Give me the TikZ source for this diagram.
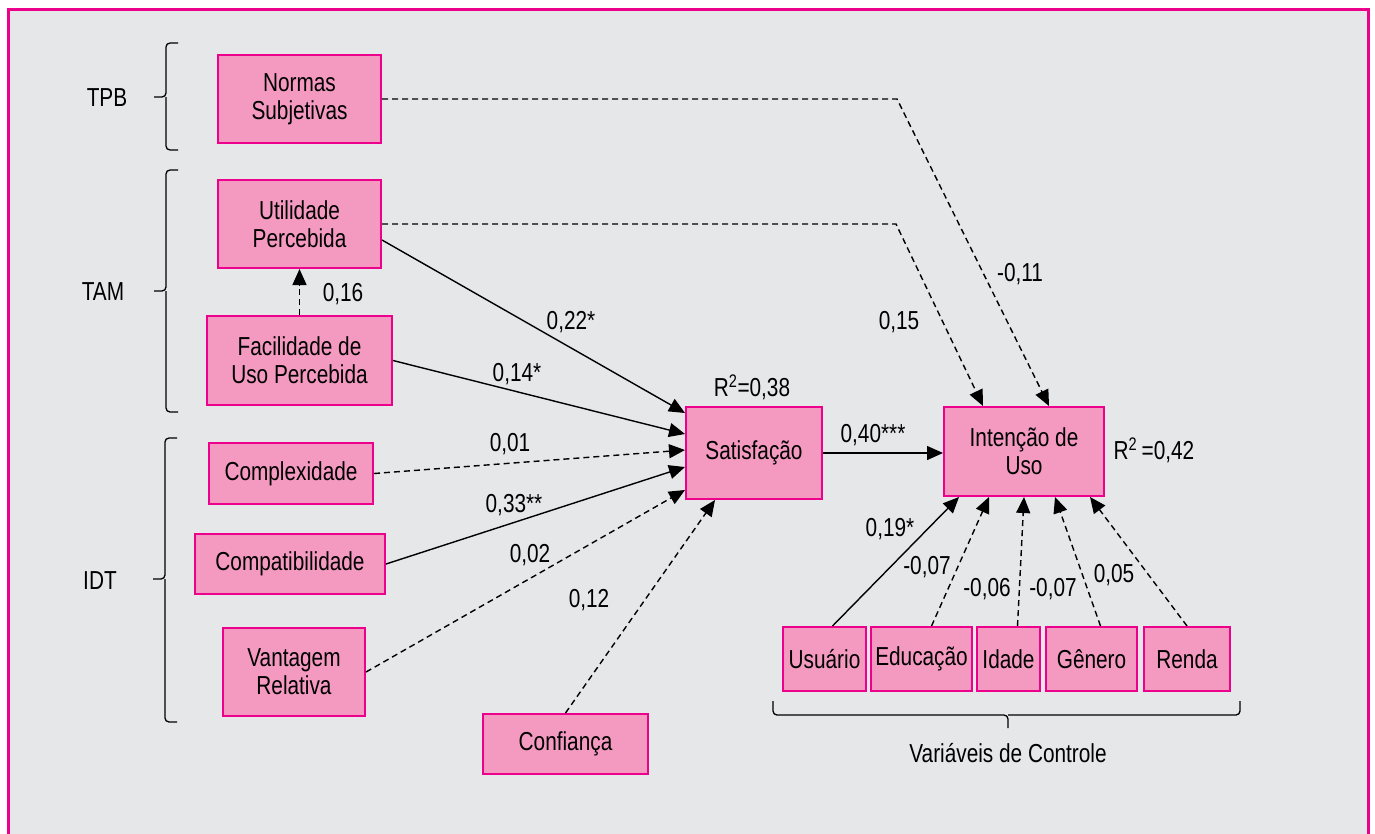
\documentclass[tikz,border=0pt]{standalone}
\usepackage{fontspec}
\setmainfont[FakeStretch=0.80]{Liberation Sans}
\usetikzlibrary{arrows.meta,calc}
\definecolor{bggray}{HTML}{E6E7E8}
\definecolor{boxfill}{HTML}{F49AC1}
\definecolor{mag}{HTML}{EC008C}
\begin{document}
\begin{tikzpicture}[x=1pt,y=-1pt,
  box/.style={draw=mag, fill=boxfill, line width=2pt, inner sep=0pt, align=center,
    font=\fontsize{26}{28}\selectfont},
  lbl/.style={inner sep=0pt, text height=18.5pt, text depth=0pt, font=\fontsize{26}{28}\selectfont},
  conn/.style={line width=1.4pt, -{Triangle[length=16pt,width=14pt]}},
  dconn/.style={conn, dash pattern=on 6pt off 4pt},
  brace/.style={line width=1.3pt, rounded corners=4pt}]
\useasboundingbox (0,0) rectangle (1375,833);
\fill[white] (0,0) rectangle (1375,833);
\fill[bggray] (8,9) rectangle (1368,860);
\draw[mag, line width=3pt] (8,9) rectangle (1368,860);

% nodes
\node[box, minimum width=163pt, minimum height=88pt] (NS) at (299.5,99) {Normas\\Subjetivas};
\node[box, minimum width=163pt, minimum height=88pt] (UP) at (299.5,224) {Utilidade\\Percebida};
\node[box, minimum width=185pt, minimum height=89pt] (FUP) at (299.5,360.5) {Facilidade de\\Uso Percebida};
\node[box, minimum width=164pt, minimum height=61pt] (CX) at (291,473.5) {Complexidade};
\node[box, minimum width=190pt, minimum height=60pt] (CP) at (290,564) {Compatibilidade};
\node[box, minimum width=142pt, minimum height=88pt] (VR) at (294,672) {Vantagem\\Relativa};
\node[box, minimum width=165pt, minimum height=60pt] (CF) at (565.5,744) {Confiança};
\node[box, minimum width=136pt, minimum height=92pt] (SAT) at (754,453) {Satisfação};
\node[box, minimum width=160pt, minimum height=89pt] (INT) at (1024,451.5) {Intenção de\\Uso};
\node[box, minimum width=83pt, minimum height=64pt] (US) at (824.5,659) {Usuário};
\node[box, minimum width=101pt, minimum height=64pt] (ED) at (921.5,659) {Educação};
\node[box, minimum width=63pt, minimum height=64pt] (ID) at (1008.5,659) {Idade};
\node[box, minimum width=91pt, minimum height=64pt] (GE) at (1091.5,659) {Gênero};
\node[box, minimum width=86pt, minimum height=64pt] (RE) at (1187,659) {Renda};

% group labels
\node[lbl] (tpb) at (107,97) {TPB};
\node[lbl] (tam) at (103,291) {TAM};
\node[lbl] (idt) at (100,580) {IDT};
\node[lbl] (vc) at (1008,753) {Variáveis de Controle};

% brackets
\draw[brace] (178,43) -- (166,43) -- (166,97) -- (154,97);
\draw[brace] (166,97) -- (166,150) -- (178,150);
\draw[brace] (178,170) -- (166,170) -- (166,291) -- (154,291);
\draw[brace] (166,291) -- (166,412) -- (178,412);
\draw[brace] (177,438) -- (165,438) -- (165,579) -- (153,579);
\draw[brace] (165,579) -- (165,722) -- (177,722);
\draw[brace] (773,701) -- (773,715) -- (1008,715) -- (1008,728);
\draw[brace] (1008,715) -- (1240,715) -- (1240,701);

% bend points
\coordinate (b1) at (897,99);
\coordinate (b2) at (896,224);

% connectors
\draw[dconn] (NS.east) -- (b1) -- ([xshift=25pt]INT.north);
\draw[dconn] (UP.east) -- (b2) -- ([xshift=-41pt]INT.north);
\draw[conn] ([yshift=-16pt]UP.east) -- ([yshift=40pt]SAT.west);
\draw[conn] (FUP.east) -- ([yshift=19pt]SAT.west);
\draw[dconn] (CX.east) -- ([yshift=3pt]SAT.west);
\draw[conn] (CP.east) -- ([yshift=-14pt]SAT.west);
\draw[dconn] (VR.east) -- ([yshift=-37pt]SAT.west);
\draw[dconn] (CF.north) -- ([xshift=-39pt]SAT.south);
\draw[dconn] (FUP.north) -- (UP.south);
\draw[conn] (SAT.east) -- (SAT.east -| INT.west);
\draw[conn] ([xshift=8pt]US.north) -- ([xshift=-65pt]INT.south);
\draw[dconn] ([xshift=10pt]ED.north) -- ([xshift=-35pt]INT.south);
\draw[dconn] ([xshift=9pt]ID.north) -- (INT.south);
\draw[dconn] ([xshift=9pt]GE.north) -- ([xshift=31pt]INT.south);
\draw[dconn] (RE.north) -- ([xshift=66pt]INT.south);

% coefficient labels
\node[lbl] (l016) at (343,292) {0,16};
\node[lbl] (l022) at (571,320) {0,22*};
\node[lbl] (l014) at (517,372) {0,14*};
\node[lbl] (r38) at (752,387) {R\textsuperscript{2}=0,38};
\node[lbl] (l001) at (510,442) {0,01};
\node[lbl] (l033) at (514,503) {0,33**};
\node[lbl] (l002) at (530,553) {0,02};
\node[lbl] (l012) at (589,598) {0,12};
\node[lbl] (l040) at (873,433) {0,40***};
\node[lbl] (r42) at (1154,450) {R\textsuperscript{2}\,=0,42};
\node[lbl] (l019) at (890,527) {0,19*};
\node[lbl] (l007a) at (927,565) {-0,07};
\node[lbl] (l006) at (987,587) {-0,06};
\node[lbl] (l007b) at (1053,587) {-0,07};
\node[lbl] (l005) at (1114,573) {0,05};
\node[lbl] (l011) at (1020,272) {-0,11};
\node[lbl] (l015) at (899,320) {0,15};
\end{tikzpicture}
\end{document}
